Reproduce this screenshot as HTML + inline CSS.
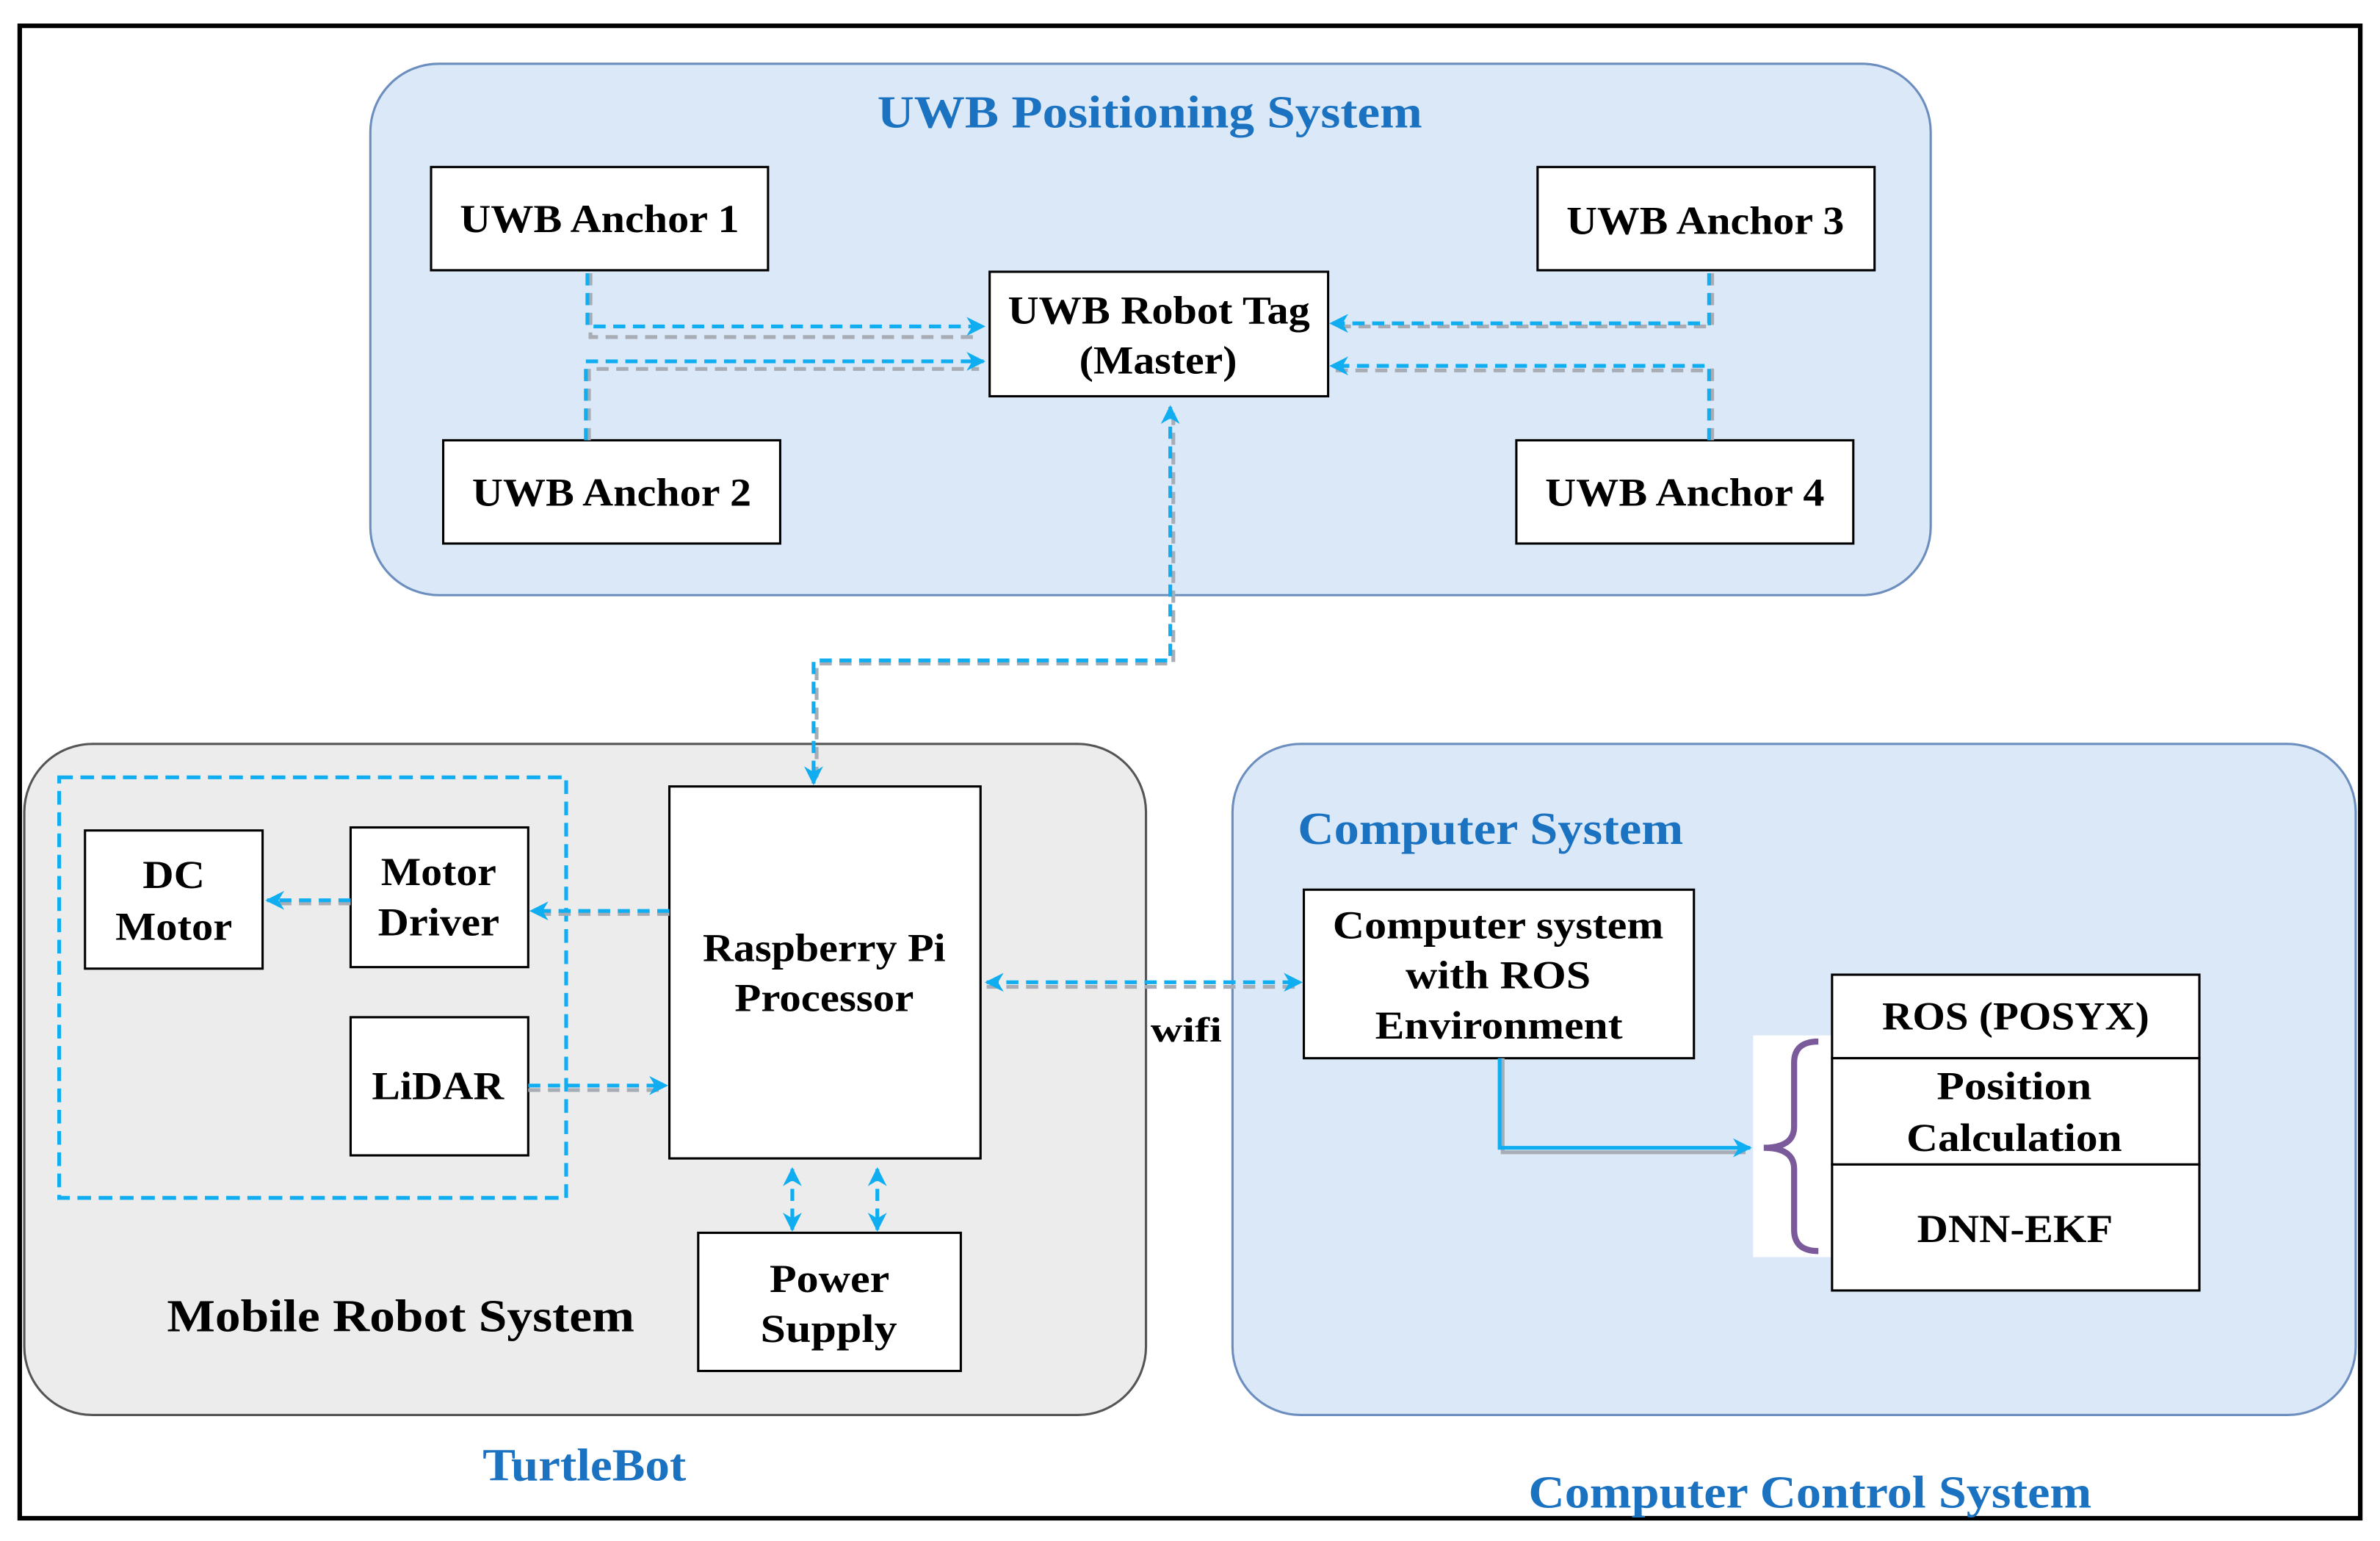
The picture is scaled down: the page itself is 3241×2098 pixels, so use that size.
<!DOCTYPE html>
<html><head><meta charset="utf-8"><style>html,body{margin:0;padding:0;background:#fff}svg{display:block}text{font-family:"Liberation Serif",serif;font-weight:bold}</style></head>
<body>
<svg width="3241" height="2098" viewBox="0 0 1568 1015" preserveAspectRatio="none" xmlns="http://www.w3.org/2000/svg">
<defs>
<marker id="a" viewBox="0 0 10 10" refX="9" refY="5" markerWidth="5" markerHeight="5" orient="auto-start-reverse"><path d="M0,0 L10,5 L0,10 L3,5 z" fill="#10aef0"/></marker>
</defs>
<rect width="1568" height="1015" fill="#fff"/>
<rect x="13" y="17" width="1542" height="983" fill="none" stroke="#000" stroke-width="3"/>
<!-- UWB group -->
<rect x="244" y="42" width="1028" height="350" rx="45" fill="#dae8f8" stroke="#6c8ebf" stroke-width="1.5"/>
<text x="578" y="84" font-size="30" fill="#1a72c0" textLength="359" lengthAdjust="spacingAndGlyphs">UWB Positioning System</text>
<g fill="#fff" stroke="#000" stroke-width="1.5">
<rect x="284" y="110" width="222" height="68"/>
<rect x="1013" y="110" width="222" height="68"/>
<rect x="652" y="179" width="223" height="82"/>
<rect x="292" y="290" width="222" height="68"/>
<rect x="999" y="290" width="222" height="68"/>
</g>
<g font-size="26" fill="#000" lengthAdjust="spacingAndGlyphs">
<text x="303" y="153" textLength="184" lengthAdjust="spacingAndGlyphs">UWB Anchor 1</text>
<text x="1032" y="154" textLength="183" lengthAdjust="spacingAndGlyphs">UWB Anchor 3</text>
<text x="664" y="213" textLength="199" lengthAdjust="spacingAndGlyphs">UWB Robot Tag</text>
<text x="711" y="246" textLength="104" lengthAdjust="spacingAndGlyphs">(Master)</text>
<text x="311" y="333" textLength="184" lengthAdjust="spacingAndGlyphs">UWB Anchor 2</text>
<text x="1018" y="333" textLength="184" lengthAdjust="spacingAndGlyphs">UWB Anchor 4</text>
</g>
<!-- Mobile robot -->
<rect x="16" y="490" width="739" height="442" rx="45" fill="#ececec" stroke="#555" stroke-width="1.5"/>
<rect x="39" y="512" width="334" height="277" fill="none" stroke="#10aef0" stroke-width="2.5" stroke-dasharray="9,5"/>
<g fill="#fff" stroke="#000" stroke-width="1.5">
<rect x="56" y="547" width="117" height="91"/>
<rect x="231" y="545" width="117" height="92"/>
<rect x="231" y="670" width="117" height="91"/>
<rect x="441" y="518" width="205" height="245"/>
<rect x="460" y="812" width="173" height="91"/>
</g>
<g font-size="26" fill="#000">
<text x="94" y="585" textLength="41" lengthAdjust="spacingAndGlyphs">DC</text>
<text x="76" y="619" textLength="77" lengthAdjust="spacingAndGlyphs">Motor</text>
<text x="251" y="583" textLength="76" lengthAdjust="spacingAndGlyphs">Motor</text>
<text x="249" y="616" textLength="80" lengthAdjust="spacingAndGlyphs">Driver</text>
<text x="245" y="724" textLength="87" lengthAdjust="spacingAndGlyphs">LiDAR</text>
<text x="463" y="633" textLength="160" lengthAdjust="spacingAndGlyphs">Raspberry Pi</text>
<text x="484" y="666" textLength="118" lengthAdjust="spacingAndGlyphs">Processor</text>
<text x="507" y="851" textLength="79" lengthAdjust="spacingAndGlyphs">Power</text>
<text x="501" y="884" textLength="90" lengthAdjust="spacingAndGlyphs">Supply</text>
<text x="110" y="877" font-size="30" textLength="308" lengthAdjust="spacingAndGlyphs">Mobile Robot System</text>
<text x="318" y="975" font-size="30" fill="#1a72c0" textLength="134" lengthAdjust="spacingAndGlyphs">TurtleBot</text>
<text x="758" y="686" font-size="23" textLength="47" lengthAdjust="spacingAndGlyphs">wifi</text>
</g>
<!-- Computer system -->
<rect x="812" y="490" width="740" height="442" rx="45" fill="#dae8f8" stroke="#6c8ebf" stroke-width="1.5"/>
<text x="855" y="556" font-size="30" fill="#1a72c0" textLength="254" lengthAdjust="spacingAndGlyphs">Computer System</text>
<text x="1007" y="993" font-size="30" fill="#1a72c0" textLength="371" lengthAdjust="spacingAndGlyphs">Computer Control System</text>
<rect x="1155" y="682" width="52" height="146" fill="#fff"/>
<g fill="#fff" stroke="#000" stroke-width="1.5">
<rect x="859" y="586" width="257" height="111"/>
<rect x="1207" y="642" width="242" height="55"/>
<rect x="1207" y="697" width="242" height="70"/>
<rect x="1207" y="767" width="242" height="83"/>
</g>
<g font-size="26" fill="#000">
<text x="878" y="618" textLength="218" lengthAdjust="spacingAndGlyphs">Computer system</text>
<text x="926" y="651" textLength="122" lengthAdjust="spacingAndGlyphs">with ROS</text>
<text x="906" y="684" textLength="163" lengthAdjust="spacingAndGlyphs">Environment</text>
<text x="1240" y="678" textLength="176" lengthAdjust="spacingAndGlyphs">ROS (POSYX)</text>
<text x="1276" y="724" textLength="102" lengthAdjust="spacingAndGlyphs">Position</text>
<text x="1256" y="758" textLength="142" lengthAdjust="spacingAndGlyphs">Calculation</text>
<text x="1263" y="818" textLength="129" lengthAdjust="spacingAndGlyphs">DNN-EKF</text>
</g>
<path d="M1198,686 Q1182,686 1182,700 V742 Q1182,756 1162,756 Q1182,756 1182,770 V810 Q1182,824 1198,824" fill="none" stroke="#7a5a9a" stroke-width="4"/>
<!-- connectors -->
<g fill="none" stroke="#a8adb5" stroke-width="2.5" stroke-dasharray="8,5">
<path d="M389,180 V222 H645"/>
<path d="M388,290 V243 H645"/>
<path d="M1128,180 V215 H878"/>
<path d="M1128,290 V244 H878"/>
<path d="M773,272 V437 H538 V512"/>
<path d="M441,602 H355"/>
<path d="M348,718 H435"/>
<path d="M231,595 H180"/>
<path d="M650,650 H855"/>
<path d="M990,697 V759 H1150" stroke-dasharray="none"/>
</g>
<g fill="none" stroke="#10aef0" stroke-width="2.5" stroke-dasharray="8,5">
<path d="M387,180 V215 H648" marker-end="url(#a)"/>
<path d="M386,290 V238 H648" marker-end="url(#a)"/>
<path d="M1126,180 V213 H877" marker-end="url(#a)"/>
<path d="M1126,290 V241 H877" marker-end="url(#a)"/>
<path d="M771,268 V435 H536 V516" marker-start="url(#a)" marker-end="url(#a)"/>
<path d="M441,600 H350" marker-end="url(#a)"/>
<path d="M231,593 H176" marker-end="url(#a)"/>
<path d="M348,715 H439" marker-end="url(#a)"/>
<path d="M650,647 H857" marker-start="url(#a)" marker-end="url(#a)"/>
<path d="M522,770 V810" marker-start="url(#a)" marker-end="url(#a)"/>
<path d="M578,770 V810" marker-start="url(#a)" marker-end="url(#a)"/>
</g>
<path d="M988,697 V756 H1153" fill="none" stroke="#10aef0" stroke-width="2.5" marker-end="url(#a)"/>
</svg>
</body></html>
